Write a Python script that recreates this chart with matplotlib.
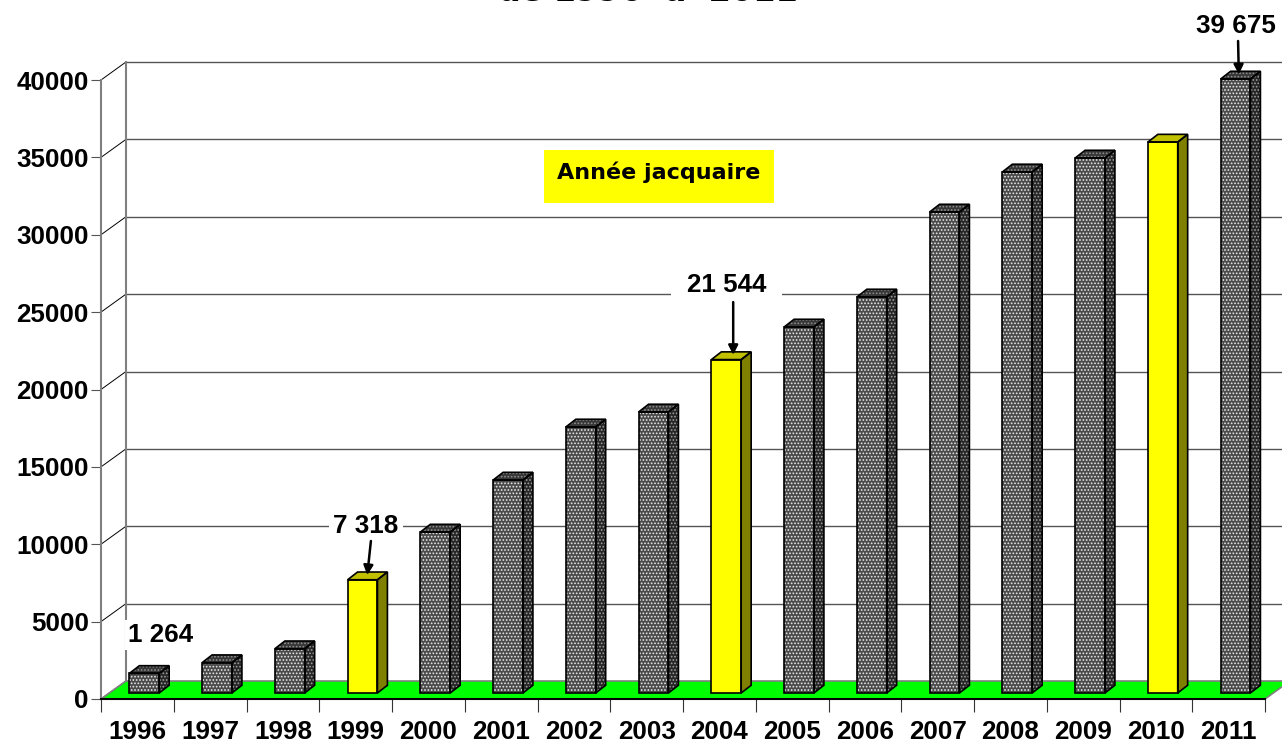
import matplotlib
matplotlib.use("Agg")
import matplotlib.pyplot as plt
from matplotlib.patches import Polygon, Rectangle

plt.rcParams['font.family'] = ['Liberation Sans', 'DejaVu Sans']
plt.rcParams['font.weight'] = 'bold'
plt.rcParams['hatch.linewidth'] = 0.8

years = ['1996', '1997', '1998', '1999', '2000', '2001', '2002', '2003',
         '2004', '2005', '2006', '2007', '2008', '2009', '2010', '2011']
values = [1264, 1960, 2860, 7318, 10400, 13760, 17190, 18160,
          21544, 23650, 25590, 31080, 33670, 34570, 35600, 39675]
jubilee = ['1999', '2004', '2010']
y_ticks = [0, 5000, 10000, 15000, 20000, 25000, 30000, 35000, 40000]

# depth of the fake 3d box, in data units (1 category = 72.8 px, 1000 = 15.5 px)
depth_x = 0.343
depth_y = 1163
bar_w = 0.41
bar_dx = 0.137
bar_dy = 500
bar_x0 = 0.39
bar_y0 = 388

fig = plt.figure(figsize=(12.82, 7.42), dpi=100)
ax = fig.add_axes([101 / 1282, 43 / 742, 1164 / 1282, 619 / 742])
ax.set_xlim(0, 16)
ax.set_ylim(0, 40000)
ax.patch.set_visible(False)

# back wall and diagonals
for v in y_ticks:
    if v > 0:
        ax.plot([depth_x, 16.5], [v + depth_y, v + depth_y], color='#555555', lw=1, clip_on=False, zorder=1)
    ax.plot([0, depth_x], [v, v + depth_y], color='black', lw=0.7, clip_on=False, zorder=1)
ax.plot([depth_x, depth_x], [depth_y, 40000 + depth_y], color='#808080', lw=1.5, clip_on=False, zorder=1)

# floor
ax.add_patch(Polygon([(0, 0), (depth_x, depth_y), (16 + depth_x, depth_y), (16, 0)],
                     facecolor='#00ff00', edgecolor='#808080', lw=1.2, clip_on=False, zorder=2))


def draw_bar(i, v):
    x0 = i + bar_x0
    x1 = x0 + bar_w
    y0 = bar_y0
    y1 = bar_y0 + v
    front = [(x0, y0), (x1, y0), (x1, y1), (x0, y1)]
    side = [(x1, y0), (x1 + bar_dx, y0 + bar_dy), (x1 + bar_dx, y1 + bar_dy), (x1, y1)]
    top = [(x0, y1), (x1, y1), (x1 + bar_dx, y1 + bar_dy), (x0 + bar_dx, y1 + bar_dy)]
    if years[i] in jubilee:
        faces = [(front, '#ffff00', None, None), (side, '#808000', None, None), (top, '#c0c000', None, None)]
    else:
        faces = [(front, '#4a4a4a', '#e8e8e8', '.....'), (side, '#262626', '#a0a0a0', '.....'),
                 (top, '#363636', '#909090', '.....')]
    for pts, fc, hc, hatch in faces:
        if hatch:
            ax.add_patch(Polygon(pts, facecolor=fc, edgecolor=hc, hatch=hatch, lw=0, clip_on=False, zorder=3))
        else:
            ax.add_patch(Polygon(pts, facecolor=fc, edgecolor='none', clip_on=False, zorder=3))
        ax.add_patch(Polygon(pts, fill=False, edgecolor='black', lw=1.2, clip_on=False, zorder=3.1))


for i, v in enumerate(values):
    draw_bar(i, v)

# axes
ax.spines['top'].set_visible(False)
ax.spines['right'].set_visible(False)
ax.spines['left'].set_color('#808080')
ax.spines['left'].set_linewidth(1.5)
ax.spines['bottom'].set_linewidth(1.5)
ax.spines['bottom'].set_zorder(4)
ax.set_yticks(y_ticks)
ax.tick_params(axis='y', length=7.2, width=0.8, color='#555555', labelsize=18.7, pad=1.5)
ax.set_xticks(range(17))
ax.set_xticklabels([])
ax.tick_params(axis='x', which='major', length=9.5, width=0.8, color='#333333')
ax.set_xticks([i + 0.5 for i in range(16)], labels=years, minor=True)
ax.tick_params(axis='x', which='minor', length=0, labelsize=18.7, pad=15)

# value labels and arrows
arrow = dict(arrowstyle='-|>', color='black', lw=1.8, mutation_scale=14, shrinkA=0, shrinkB=0)
ax.text(0.82, 4135, '1 264', ha='center', va='center', fontsize=18.7, zorder=5,
        bbox=dict(facecolor='white', edgecolor='none', pad=2))
ax.text(3.64, 11200, '7 318', ha='center', va='center', fontsize=18.7, zorder=5,
        bbox=dict(facecolor='white', edgecolor='none', pad=3))
ax.annotate('', xy=(3 + bar_x0 + bar_w / 2 + 0.065, values[3] + bar_y0 + 300), xytext=(3.71, 10210),
            zorder=5, arrowprops=arrow)
ax.text(8.6, 26750, '21 544', ha='center', va='center', fontsize=18.7, zorder=2.5,
        bbox=dict(facecolor='white', edgecolor='none', boxstyle='square,pad=0.6'))
ax.annotate('', xy=(8 + bar_x0 + bar_w / 2 + 0.095, values[8] + bar_y0 + 300), xytext=(8.69, 25650),
            zorder=5, arrowprops=arrow)
ax.text(15.6, 43490, '39 675', ha='center', va='center', fontsize=18.7, zorder=5)
ax.annotate('', xy=(15 + bar_x0 + bar_w / 2 + 0.045, values[15] + bar_y0 + 300), xytext=(15.63, 42520),
            zorder=5, annotation_clip=False, arrowprops=arrow)

# legend box and clipped title
fig.patches.append(Rectangle((544 / 1282, 1 - 203 / 742), 230 / 1282, 53 / 742, transform=fig.transFigure,
                             facecolor='#ffff00', edgecolor='none', zorder=6))
fig.text(659 / 1282, 1 - 172 / 742, 'Année jacquaire', ha='center', va='center', fontsize=16,
         family=['DejaVu Sans'], fontweight='bold', zorder=7)
fig.text(648 / 1282, 1 - 1 / 742, 'de 1996  à  2011', ha='center', va='baseline', fontsize=23,
         family=['DejaVu Sans'], fontweight='bold')

fig.savefig('out.png', dpi=100)
